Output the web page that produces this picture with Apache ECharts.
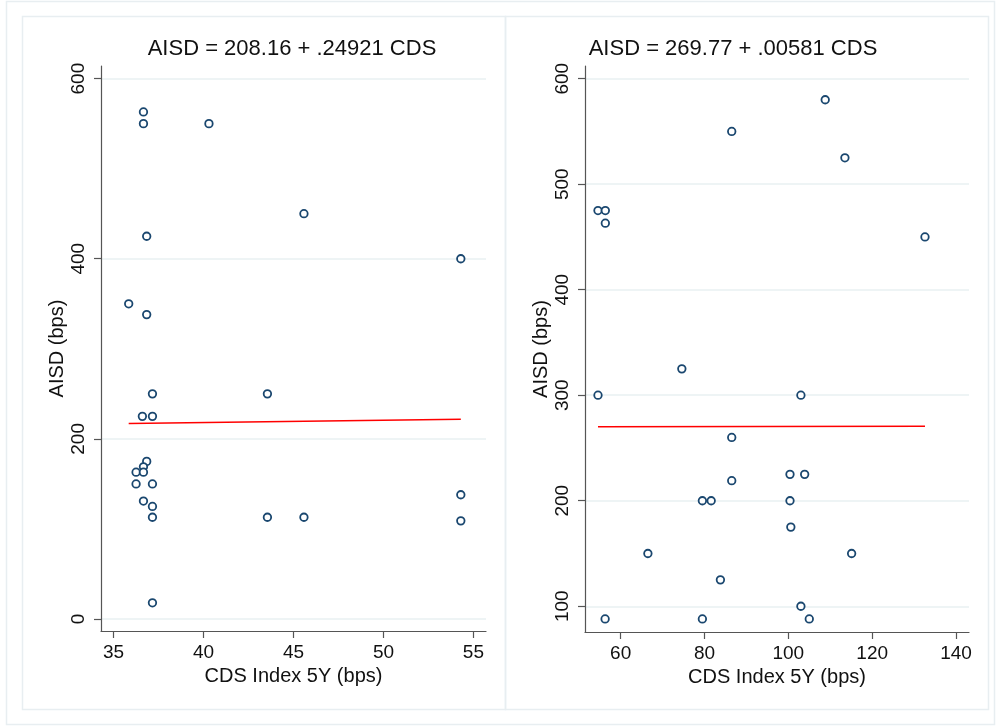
<!DOCTYPE html>
<html>
<head>
<meta charset="utf-8">
<script src="https://cdn.jsdelivr.net/npm/echarts@6/dist/echarts.min.js"></script>
<style>
  html, body { margin: 0; padding: 0; background: #fff; }
  #main { width: 998px; height: 726px; }
</style>
</head>
<body>
<div id="main"></div>
<script>
// 左图数据 (CDS 35-55)
var leftCds = [36.66, 36.66, 40.3, 45.58, 36.84, 54.3, 35.84, 36.84, 37.16, 43.55, 36.6, 37.16, 36.84,
               36.66, 36.25, 36.66, 36.25, 37.16, 36.66, 37.16, 37.16, 43.55, 45.58, 54.3, 54.3, 37.16]
var leftAisd = [563, 550, 550, 450, 425, 400, 350, 338, 250, 250, 225, 225, 175,
                169, 163, 163, 150, 150, 131, 125, 113, 113, 113, 138, 109, 18]
var leftFitX = [35.84, 54.3]
var leftFitY = [217.1, 221.7]
var leftTitle = 'AISD = 208.16 + .24921 CDS'
var leftXTicks = [35, 40, 45, 50, 55]
var leftYTicks = [0, 200, 400, 600]

// 右图数据 (CDS 60-140)
var rightCds = [108.8, 86.5, 113.5, 54.6, 56.35, 56.35, 132.6, 74.6, 54.6, 103, 86.5, 100.4, 103.9,
                86.5, 79.5, 81.6, 100.4, 100.6, 66.5, 115.1, 83.8, 103, 56.3, 79.5, 105]
var rightAisd = [580, 550, 525, 475, 475, 463, 450, 325, 300, 300, 260, 225, 225,
                 219, 200, 200, 200, 175, 150, 150, 125, 100, 88, 88, 88]
var rightFitX = [54.6, 132.6]
var rightFitY = [270.1, 270.5]
var rightTitle = 'AISD = 269.77 + .00581 CDS'
var rightXTicks = [60, 80, 100, 120, 140]
var rightYTicks = [100, 200, 300, 400, 500, 600]

var font = 'Liberation Sans, Arial, sans-serif'
var axisColor = '#555'
var gridColor = '#e8f0f2'
var dotColor = '#1a476f'

var pairs = function(xs, ys) {
    var res = []
    for (var i = 0; i < xs.length; i++) {
        res.push([xs[i], ys[i]])
    }
    return res
}

var makeX = function(idx, min, max, ticks) {
    return {
        type: 'value', gridIndex: idx, min: min, max: max,
        name: 'CDS Index 5Y (bps)', nameLocation: 'middle', nameGap: 33,
        nameTextStyle: { fontFamily: font, fontSize: 20, color: '#111' },
        axisLine: { show: true, onZero: false, lineStyle: { color: axisColor, width: 1.2 } },
        axisTick: { show: true, length: 7, customValues: ticks, lineStyle: { color: axisColor, width: 1.2 } },
        axisLabel: { customValues: ticks, margin: 12, fontFamily: font, fontSize: 19, color: '#111' },
        splitLine: { show: false }
    }
}

var makeY = function(idx, min, max, ticks) {
    return {
        type: 'value', gridIndex: idx, min: min, max: max,
        name: 'AISD (bps)', nameLocation: 'middle', nameGap: 34,
        nameTextStyle: { fontFamily: font, fontSize: 20, color: '#111' },
        axisLine: { show: true, onZero: false, lineStyle: { color: axisColor, width: 1.2 } },
        axisTick: { show: true, length: 7, customValues: ticks, lineStyle: { color: axisColor, width: 1.2 } },
        axisLabel: { customValues: ticks, rotate: 90, margin: 13, fontFamily: font, fontSize: 19, color: '#111' },
        splitLine: { show: true, lineStyle: { color: gridColor, width: 1.5 } }
    }
}

var scatter = function(idx, data) {
    return {
        type: 'scatter', xAxisIndex: idx, yAxisIndex: idx,
        symbol: 'circle', symbolSize: 7.5, data: data,
        itemStyle: { color: '#fff', borderColor: dotColor, borderWidth: 1.8, opacity: 1 },
        silent: true
    }
}

var fitLine = function(idx, data) {
    return {
        type: 'line', xAxisIndex: idx, yAxisIndex: idx, data: data,
        showSymbol: false, lineStyle: { color: '#ff0000', width: 1.5 }, z: 1, silent: true
    }
}

var chart = echarts.init(document.getElementById('main'))
chart.setOption({
    animation: false,
    backgroundColor: '#fff',
    grid: [
        { left: 101, right: 512, top: 66, bottom: 95 },
        { left: 585, right: 29, top: 66, bottom: 94 }
    ],
    xAxis: [makeX(0, 34.3, 55.7, leftXTicks), makeX(1, 51.5, 143.1, rightXTicks)],
    yAxis: [makeY(0, -13.3, 614, leftYTicks), makeY(1, 75.6, 612, rightYTicks)],
    series: [
        fitLine(0, pairs(leftFitX, leftFitY)),
        scatter(0, pairs(leftCds, leftAisd)),
        fitLine(1, pairs(rightFitX, rightFitY)),
        scatter(1, pairs(rightCds, rightAisd))
    ],
    graphic: [
        { type: 'rect', shape: { x: 6.5, y: 1.5, width: 988, height: 723 }, style: { fill: null, stroke: '#e8eef1', lineWidth: 1.5 }, silent: true },
        { type: 'rect', shape: { x: 22.5, y: 16.5, width: 483, height: 693 }, style: { fill: null, stroke: '#e8eef1', lineWidth: 1.5 }, silent: true },
        { type: 'rect', shape: { x: 505.5, y: 16.5, width: 483, height: 693 }, style: { fill: null, stroke: '#e8eef1', lineWidth: 1.5 }, silent: true },
        { type: 'text', x: 292, y: 49, style: { text: leftTitle, font: '22px ' + font, fill: '#111', textAlign: 'center', textVerticalAlign: 'middle' }, silent: true },
        { type: 'text', x: 733, y: 49, style: { text: rightTitle, font: '22px ' + font, fill: '#111', textAlign: 'center', textVerticalAlign: 'middle' }, silent: true }
    ]
})
</script>
</body>
</html>
